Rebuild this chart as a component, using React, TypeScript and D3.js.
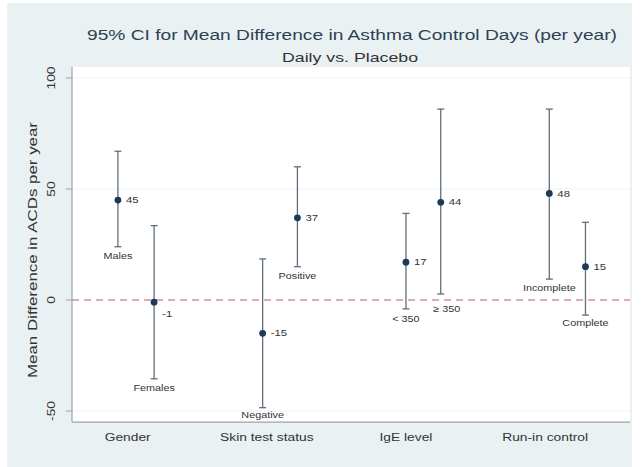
import React from "react";
import * as d3 from "d3";

const groups = ["Gender", "Skin test status", "IgE level", "Run-in control"];
const groupTicks = [1, 2, 3, 4];
const subgroups = ["Males", "Females", "Negative", "Positive", "< 350", "\u2265 350", "Incomplete", "Complete"];
const xPositions = [0.93, 1.19, 1.97, 2.22, 3.0, 3.25, 4.03, 4.29];
const means = [45, -1, -15, 37, 17, 44, 48, 15];
const lower = [24, -35.5, -48.5, 15, -4, 2.7, 9.4, -6.8];
const upper = [67, 33.5, 18.5, 60, 39, 86, 86, 35];
const valueLabelPos = [3, 4, 3, 3, 3, 3, 3, 3];
const subLabelGap = [9, 9, 7, 9, 10, 15, 9, 8];
const yTicks = [-50, 0, 50, 100];

const W = 641;
const H = 467;
const FONT = "'Liberation Sans', Arial, sans-serif";
const SX = 1.2;

function T({ x, y, rot = 0, size, fill = "#333", anchor = "middle", sx = SX, len, children }: any) {
  return (
    <text
      transform={`translate(${x},${y}) rotate(${rot}) scale(${sx},1)`}
      fontSize={size}
      fontFamily={FONT}
      fill={fill}
      textAnchor={anchor}
      dominantBaseline="central"
      textLength={len}
      lengthAdjust={len ? "spacingAndGlyphs" : undefined}
    >
      {children}
    </text>
  );
}

export default function App() {
  const x = d3.scaleLinear().domain([0.6, 4.61]).range([72, 630]);
  const y = d3.scaleLinear().domain([-50, 100]).range([411, 78]);
  const top = y(105);
  const bottom = y(-55);
  const left = x.range()[0];
  const right = x.range()[1];

  return (
    <svg width={W} height={H} style={{ position: "absolute", left: 0, top: 0 }}>
      <rect x={0} y={0} width={W} height={H} fill="#ffffff" />
      <rect x={7} y={3} width={625} height={H - 3} fill="#eaf1f3" />
      <rect x={left} y={top} width={right - left} height={bottom - top} fill="#ffffff" />
      {yTicks.filter((t) => t !== 0).map((t) => (
        <line key={t} x1={left} x2={right} y1={y(t)} y2={y(t)} stroke="#edf2f4" strokeWidth={1} />
      ))}
      <line x1={left} x2={right} y1={y(0)} y2={y(0)} stroke="#b85a7a" strokeWidth={1.2} strokeDasharray="7,5" />
      <line x1={left} x2={left} y1={top} y2={bottom} stroke="#9aa4ab" strokeWidth={1.2} />
      <line x1={left} x2={right} y1={bottom} y2={bottom} stroke="#9aa4ab" strokeWidth={1.2} />
      {yTicks.map((t) => (
        <g key={t}>
          <line x1={left - 6} x2={left} y1={y(t)} y2={y(t)} stroke="#9aa4ab" strokeWidth={1} />
          <T x={51} y={y(t)} rot={-90} size={11.5}>{String(t)}</T>
        </g>
      ))}
      <T x={33} y={250} rot={-90} size={12} sx={1} len={256}>Mean Difference in ACDs per year</T>
      {groups.map((g, i) => (
        <T key={g} x={x(groupTicks[i])} y={437} size={11.5}>{g}</T>
      ))}
      {subgroups.map((s, i) => {
        const cx = x(xPositions[i]);
        return (
          <g key={s}>
            <line x1={cx} x2={cx} y1={y(upper[i])} y2={y(lower[i])} stroke="#5e6f7e" strokeWidth={1.3} />
            <line x1={cx - 3.5} x2={cx + 3.5} y1={y(upper[i])} y2={y(upper[i])} stroke="#5e6f7e" strokeWidth={1.3} />
            <line x1={cx - 3.5} x2={cx + 3.5} y1={y(lower[i])} y2={y(lower[i])} stroke="#5e6f7e" strokeWidth={1.3} />
            <circle cx={cx} cy={y(means[i])} r={3.4} fill="#1c3a56" />
            <T
              x={cx + 8}
              y={y(means[i]) + (valueLabelPos[i] === 4 ? 12 : 0)}
              size={9.5}
              anchor="start"
            >
              {String(means[i])}
            </T>
            <T x={cx + (i === 5 ? 6 : 0)} y={y(lower[i]) + subLabelGap[i]} size={9}>{s}</T>
          </g>
        );
      })}
      <T x={352} y={35} size={14} sx={1} len={530} fill="#2e3f55">95% CI for Mean Difference in Asthma Control Days (per year)</T>
      <T x={350} y={57} size={13.5} sx={1} len={136} fill="#333">Daily vs. Placebo</T>
    </svg>
  );
}
